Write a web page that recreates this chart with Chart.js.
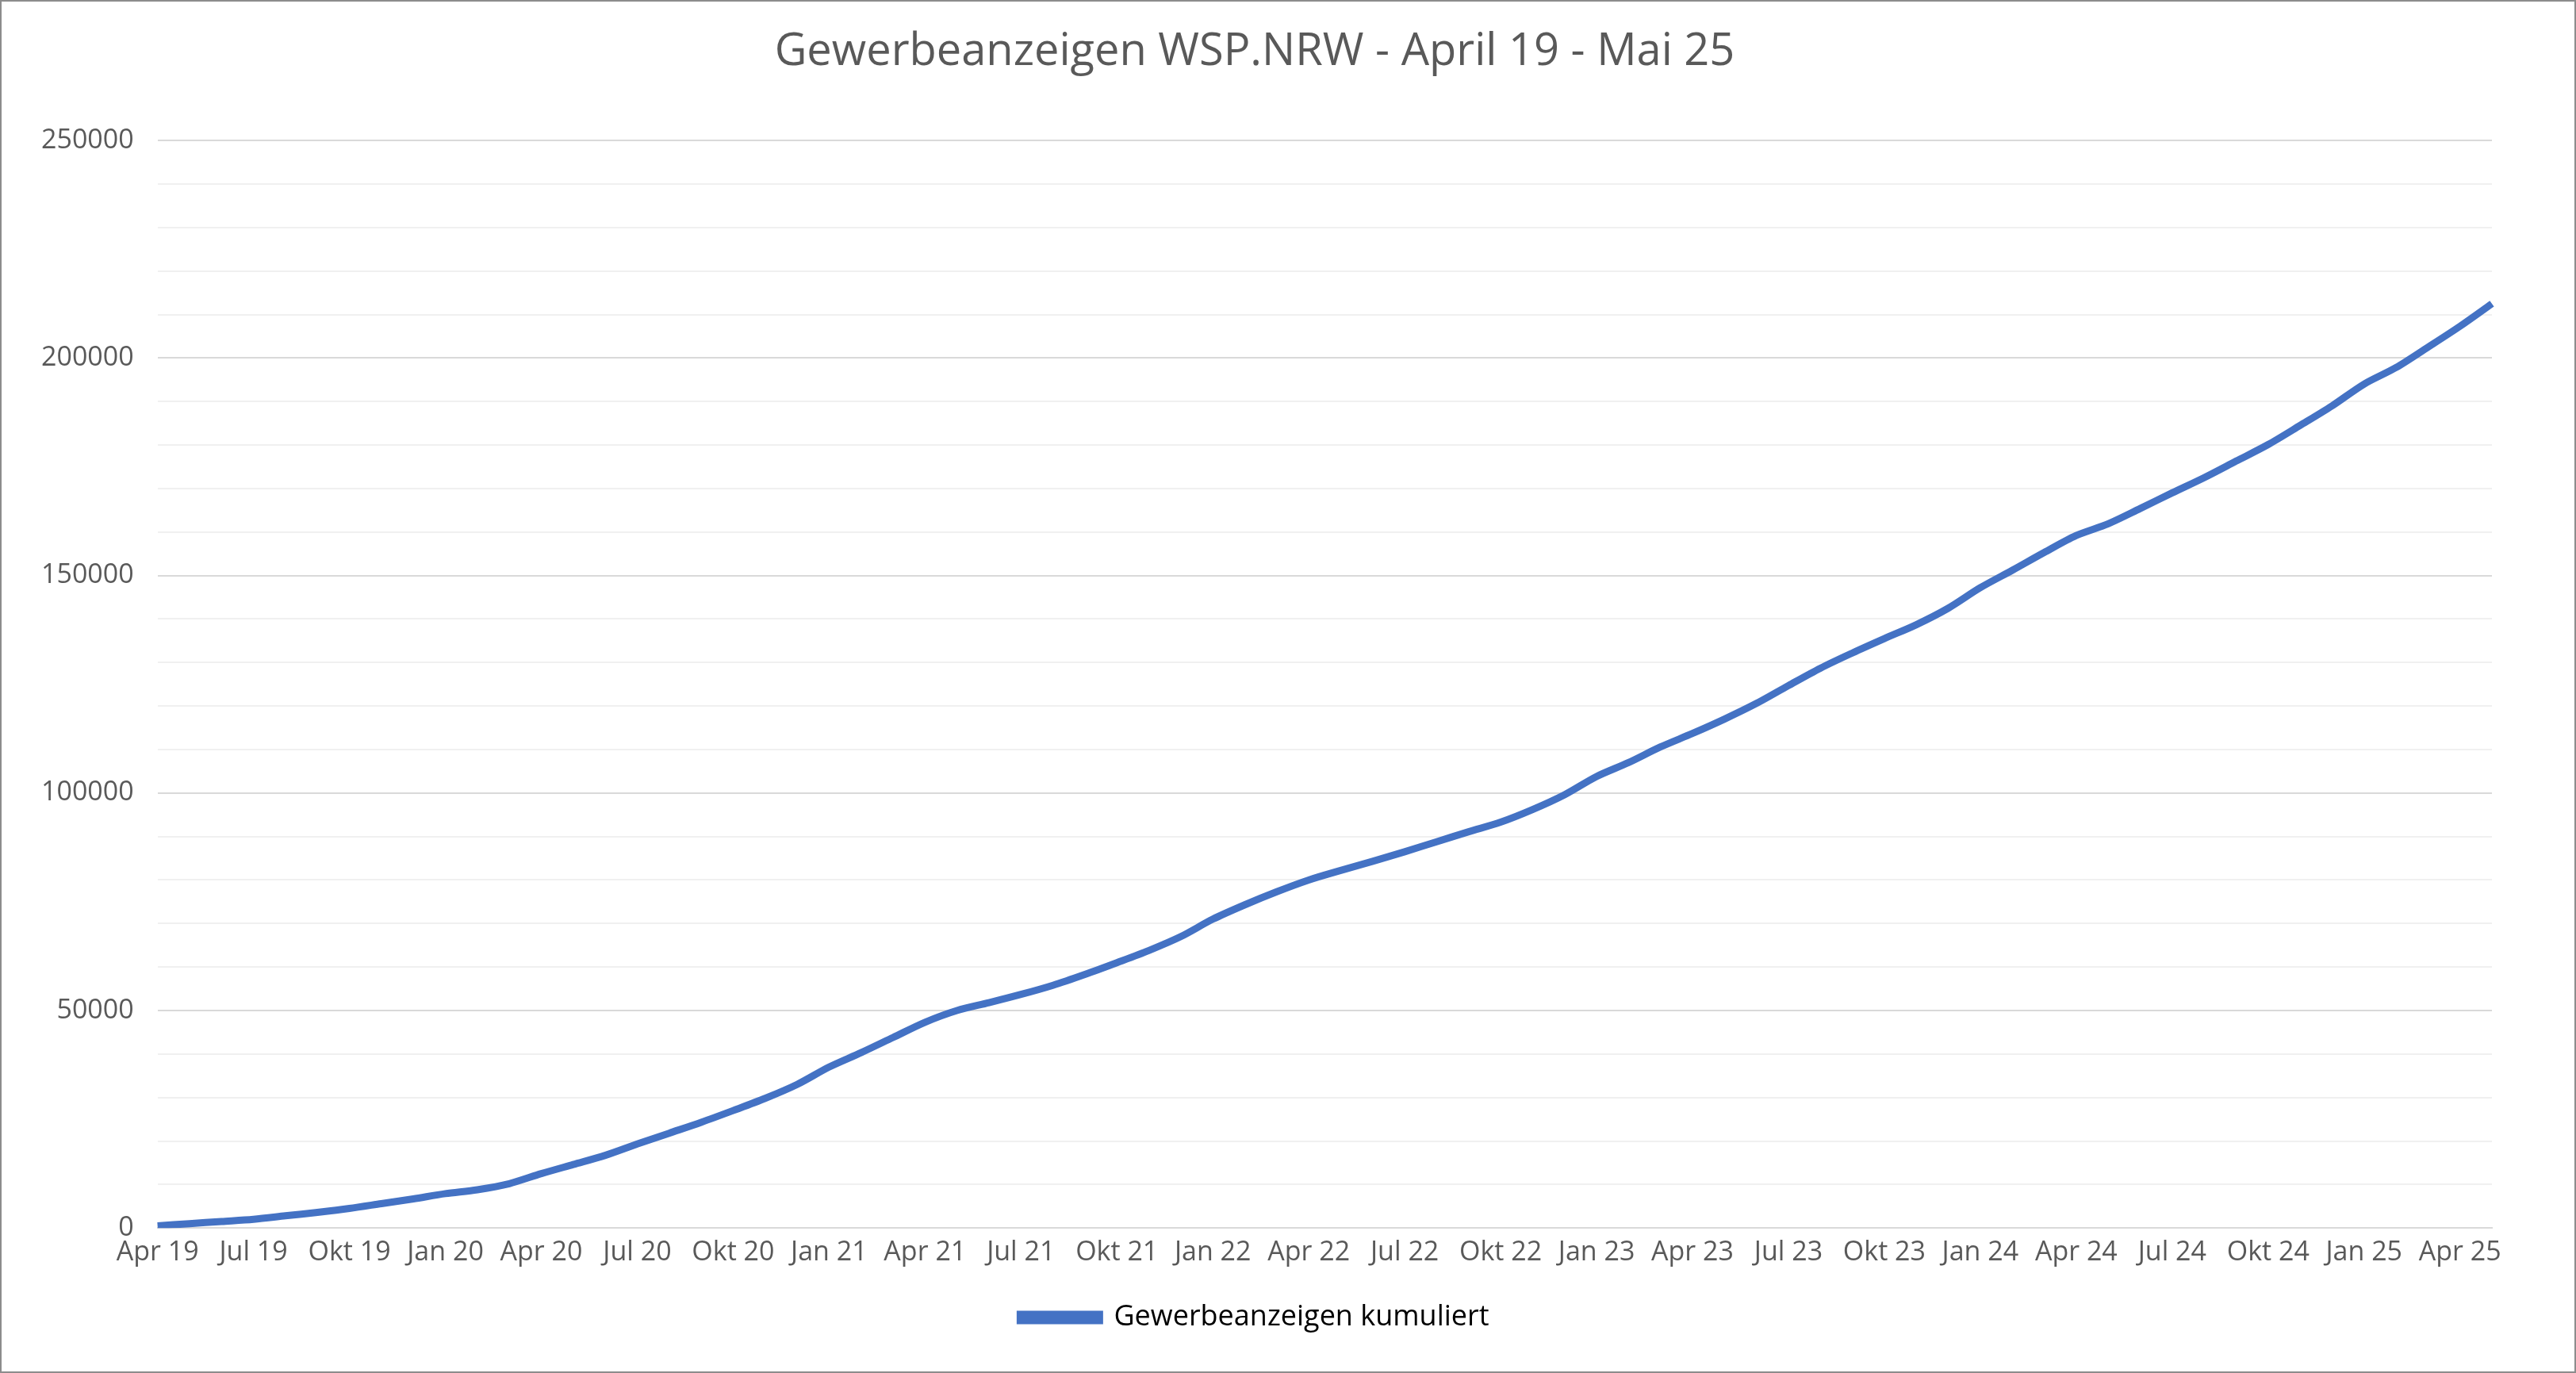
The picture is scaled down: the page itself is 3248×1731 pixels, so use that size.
<!DOCTYPE html>
<html><head><meta charset="utf-8">
<script src="https://cdn.jsdelivr.net/npm/chart.js@4"></script>
<style>html,body{margin:0;padding:0;background:#fff}#w{position:absolute;left:0;top:0;width:3244px;height:1727px;border:2px solid #8c8c8c}</style>
</head><body><div id="w"><canvas id="c"></canvas></div>
<script>
const months=["Jan","Feb","Mrz","Apr","Mai","Jun","Jul","Aug","Sep","Okt","Nov","Dez"];
const labels=[];
for(let y=19;y<=25;y++){for(let m=0;m<12;m++){if(y===19&&m<3)continue;if(y===25&&m>4)continue;labels.push(months[m]+" "+y);}}
const values=[500,1000,1500,2000,2800,3600,4500,5600,6700,
7900,8800,10200,12500,14600,16700,19300,21800,24300,27000,29800,33000,
37000,40300,43800,47300,50000,51800,53700,55800,58300,61000,63800,67000,
71000,74300,77300,80000,82200,84300,86500,88800,91100,93300,96200,99600,
103800,107000,110600,113700,117000,120600,124700,128700,132200,135500,138700,142500,
147200,151200,155300,159200,161900,165400,169000,172500,176300,180100,184500,189000,
194000,197800,202500,207300,212500];
const F="'Open Sans', 'Liberation Sans', sans-serif";
new Chart(document.getElementById('c'),{type:'line',
data:{labels,datasets:[{label:'Gewerbeanzeigen kumuliert',data:values,borderColor:'#4472C4',backgroundColor:'#4472C4',borderWidth:9,pointRadius:0,tension:0.3}]},
options:{responsive:true,maintainAspectRatio:false,animation:false,
layout:{padding:{left:20,right:104,top:10,bottom:40}},
plugins:{title:{display:true,text:'Gewerbeanzeigen WSP.NRW - April 19 - Mai 25',color:'#595959',font:{family:F,size:56,weight:'normal'},padding:{top:20,bottom:78}},
legend:{position:'bottom',labels:{color:'#000',font:{family:F,size:36},boxWidth:100,boxHeight:8,padding:40}}},
scales:{x:{grid:{display:false},border:{color:'#d9d9d9',width:2},ticks:{color:'#595959',font:{family:F,size:34},autoSkip:false,maxRotation:0,callback:(v,i)=>i%3===0?labels[i]:''}},
y:{min:0,max:250000,border:{display:false},ticks:{stepSize:10000,color:'#595959',font:{family:F,size:34},padding:30,callback:v=>v%50000===0?v:''},
grid:{color:c=>c.tick.value%50000===0?'#d9d9d9':'#f0f0f0',lineWidth:2,drawTicks:false}}}}});
</script></body></html>
